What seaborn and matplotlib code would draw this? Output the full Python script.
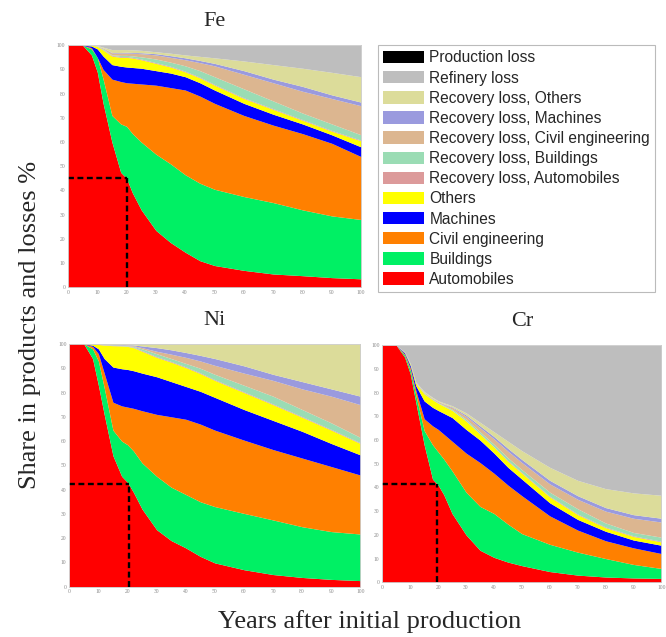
import matplotlib
matplotlib.use("Agg")
import matplotlib.pyplot as plt
from matplotlib.patches import Patch
import seaborn as sns

# years after initial production (shared x grid)
years = [0, 5, 8, 10, 12, 15, 18, 20, 22, 25, 30, 35, 40, 45, 50, 60, 70, 80, 90, 100]

categories = ["Automobiles", "Buildings", "Civil engineering", "Machines", "Others",
              "Recovery loss, Automobiles", "Recovery loss, Buildings",
              "Recovery loss, Civil engineering", "Recovery loss, Machines",
              "Recovery loss, Others", "Refinery loss", "Production loss"]
colors = ["#ff0000", "#00f064", "#ff8000", "#0000ff", "#ffff00",
          "#dc9a9a", "#9adcb4", "#dcb690", "#9a9ade",
          "#dcdc9a", "#bebebe", "#000000"]

# upper edge of each stacked layer (cumulative share %), bottom to top
fe_auto = [100, 100, 96, 89, 76, 60, 47.5, 45, 39, 32, 23.5, 18.5, 14.5, 11, 9, 7, 5.5, 4.8, 4, 3.5]
fe_bld = [100, 100, 98.5, 95, 86, 71, 67.5, 66.5, 63.5, 60, 55, 51, 46.5, 43, 40.5, 37.5, 35, 32, 29.5, 28]
fe_civ = [100, 100, 99, 95, 90, 86, 85, 84.5, 84.3, 84, 83.5, 82.5, 81.5, 79, 76, 71, 67, 63.5, 59.5, 54]
fe_mach = [100, 100, 99.7, 98.5, 95.5, 92, 91.3, 91, 90.8, 90.5, 89.5, 88.5, 87, 84.5, 81.5, 76, 71.5, 67.5, 63, 58]
fe_oth = [100, 100, 100, 99.5, 98, 95.5, 95, 95, 94.7, 94, 92.5, 91, 89, 86.5, 83.5, 78, 73.5, 69, 64.5, 60.5]
fe_rl_auto = [100, 100, 100, 99.6, 98.2, 95.8, 95.3, 95.3, 95, 94.3, 92.8, 91.3, 89.3, 86.8, 83.8, 78.3, 73.8, 69.3, 64.8, 60.8]
fe_rl_bld = [100, 100, 100, 99.7, 98.5, 96, 95.8, 95.8, 95.6, 95.2, 94.3, 93, 91.5, 89.5, 87, 82, 77, 72, 67.5, 63]
fe_rl_civ = [100, 100, 100, 99.8, 98.8, 96.8, 96.8, 96.8, 96.7, 96.5, 96, 95, 94, 92.8, 91.5, 88, 84.5, 81, 78, 75]
fe_rl_mach = [100, 100, 100, 99.8, 98.9, 97, 97, 97.1, 97, 96.9, 96.5, 95.7, 94.8, 93.7, 92.5, 89.5, 86, 83, 79.5, 76.5]
fe_rl_oth = [100, 100, 100, 99.9, 99.2, 98.2, 98.2, 98.2, 98.1, 97.9, 97.3, 96.7, 96, 95.4, 94.8, 93.5, 92, 90.5, 88.8, 87]

ni_auto = [100, 100, 94, 83, 71, 54, 45.5, 43, 39, 32, 23.5, 19, 16, 12.5, 9.8, 7, 5, 3.8, 3, 2.5]
ni_bld = [100, 100, 98, 93, 82, 64.5, 60, 58.5, 56, 51, 45.5, 41, 38, 35, 33, 30.2, 27.5, 24.7, 22.7, 21.7]
ni_civ = [100, 100, 99, 96, 88, 76, 74.5, 74, 73.5, 72.5, 71, 70, 69, 67, 64.5, 60.4, 56.5, 53, 49.5, 46]
ni_mach = [100, 100, 99.5, 98, 94, 90.5, 89.8, 89.5, 89, 88, 86.5, 84.5, 82.5, 80.5, 78, 73, 68.5, 64, 59, 54.3]
ni_oth = [100, 100, 100, 99.8, 99.5, 99.3, 99.2, 99, 98.5, 97, 94.5, 92.5, 90.3, 87.8, 85, 80, 75, 69.8, 64.5, 59]
ni_rl_auto = [100, 100, 100, 99.9, 99.6, 99.4, 99.3, 99.1, 98.7, 97.3, 94.8, 92.8, 90.6, 88.1, 85.3, 80.3, 75.3, 70.1, 64.8, 59.3]
ni_rl_bld = [100, 100, 100, 99.9, 99.7, 99.6, 99.5, 99.3, 99, 98, 96, 94, 92, 90, 87.5, 83, 78.5, 73, 67.5, 61.5]
ni_rl_civ = [100, 100, 100, 100, 99.8, 99.7, 99.6, 99.5, 99.3, 98.5, 97, 95.8, 94.5, 93, 91.2, 88, 85, 81.5, 78.5, 75]
ni_rl_mach = [100, 100, 100, 100, 99.9, 99.8, 99.8, 99.7, 99.6, 99.2, 98.5, 97.6, 96.5, 95.3, 94, 91, 87.5, 84.5, 81.5, 78.5]
ni_rl_oth = [100, 100, 100, 100, 100, 100, 100, 100, 100, 100, 100, 100, 100, 100, 100, 100, 100, 100, 100, 100]

cr_auto = [100, 100, 95, 88, 76, 58, 43.5, 41, 37, 29, 20, 13.5, 10.5, 8.5, 7, 4.5, 3, 2.2, 1.8, 1.6]
cr_bld = [100, 100, 95.8, 89.5, 79, 64, 58, 55, 52, 47, 38, 32, 29, 24.5, 20.5, 16, 12.7, 10, 7.5, 5.8]
cr_civ = [100, 100, 96.3, 90.5, 81, 69, 66, 64.5, 62.5, 59.5, 54.5, 50.5, 46, 41, 36.5, 28, 22, 17.5, 14.5, 12.1]
cr_mach = [100, 100, 96.8, 91.5, 83, 76.5, 73.8, 72.5, 71.3, 69.5, 64.5, 60, 54.5, 48.5, 43.5, 33.5, 26.5, 21.5, 17.8, 15.6]
cr_oth = [100, 100, 97, 92, 84, 79.5, 77, 75.5, 74.3, 72.5, 68, 62.5, 57, 51, 46, 36, 28.5, 23, 19.3, 17]
cr_rl_auto = [100, 100, 97, 92, 84.1, 79.6, 77.1, 75.6, 74.4, 72.6, 68.2, 62.7, 57.2, 51.3, 46.3, 36.3, 28.8, 23.3, 19.6, 17.3]
cr_rl_bld = [100, 100, 97.1, 92.1, 84.2, 79.8, 77.3, 75.8, 74.7, 73, 68.8, 63.5, 58.2, 52.5, 47.5, 38, 31, 25, 21, 19]
cr_rl_civ = [100, 100, 97.1, 92.2, 84.3, 80.1, 77.6, 76.2, 75.1, 73.7, 70, 65.2, 60.5, 55.3, 50.5, 41.5, 35, 30, 27, 25.4]
cr_rl_mach = [100, 100, 97.2, 92.3, 84.4, 80.2, 77.7, 76.3, 75.3, 74, 70.6, 66, 61.5, 56.5, 51.8, 43, 36.5, 31.5, 28.5, 27]
cr_rl_oth = [100, 100, 97.2, 92.4, 84.5, 80.5, 78, 76.6, 75.7, 74.5, 71.5, 67.5, 63.5, 59.5, 55.5, 48.5, 43, 39.5, 37.7, 36.7]

# refinery and production losses fill the rest up to 100 %
ceiling = [100, 100, 100, 100, 100, 100, 100, 100, 100, 100, 100, 100, 100, 100, 100, 100, 100, 100, 100, 100]

# half-life markers (year, share %)
fe_half = (20, 45)
ni_half = (20.5, 42.5)
cr_half = (19.5, 41.6)

sns.set_style("white")
plt.rcParams["font.family"] = ["Liberation Serif", "DejaVu Serif"]


def draw_panel(ax, tops, title, half):
    lower = [0] * len(years)
    for top, col in zip(tops, colors):
        ax.fill_between(years, lower, top, color=col, linewidth=0)
        lower = top
    hx, hy = half
    ax.plot([0, hx], [hy, hy], color="black", ls=(0, (2.5, 1.5)), lw=1.7)
    ax.plot([hx, hx], [0, hy], color="black", ls=(0, (2.5, 1.5)), lw=1.7)
    ax.set_xlim(0, 100)
    ax.set_ylim(0, 100)
    ax.set_xticks(range(0, 101, 10))
    ax.set_yticks(range(0, 101, 10))
    ax.tick_params(labelsize=4, colors="#888888", length=2, direction="in", pad=2)
    for s in ax.spines.values():
        s.set_color("#cccccc")
        s.set_linewidth(0.6)
    ax.set_title(title, fontsize=16, pad=14)


fig = plt.figure(figsize=(6.66, 6.37), dpi=100)
ax_fe = fig.add_axes([0.102, 0.549, 0.440, 0.380])
ax_ni = fig.add_axes([0.104, 0.079, 0.437, 0.381])
ax_cr = fig.add_axes([0.574, 0.086, 0.419, 0.372])

draw_panel(ax_fe, [fe_auto, fe_bld, fe_civ, fe_mach, fe_oth, fe_rl_auto, fe_rl_bld,
                   fe_rl_civ, fe_rl_mach, fe_rl_oth, ceiling, ceiling], "Fe", fe_half)
draw_panel(ax_ni, [ni_auto, ni_bld, ni_civ, ni_mach, ni_oth, ni_rl_auto, ni_rl_bld,
                   ni_rl_civ, ni_rl_mach, ni_rl_oth, ceiling, ceiling], "Ni", ni_half)
draw_panel(ax_cr, [cr_auto, cr_bld, cr_civ, cr_mach, cr_oth, cr_rl_auto, cr_rl_bld,
                   cr_rl_civ, cr_rl_mach, cr_rl_oth, ceiling, ceiling], "Cr", cr_half)

handles = [Patch(facecolor=c, edgecolor="none", label=l)
           for l, c in zip(categories[::-1], colors[::-1])]
leg = fig.legend(handles=handles, loc="upper left",
                 bbox_to_anchor=(378 / 666, 1 - 45 / 637),
                 frameon=True, fancybox=False, edgecolor="#aaaaaa",
                 prop={"family": "Liberation Sans", "size": 11.2},
                 handlelength=2.6, handleheight=0.85, handletextpad=0.35,
                 labelspacing=0.33, borderpad=0.35, borderaxespad=0)
leg.get_frame().set_linewidth(0.8)

fig.text(0.045, 0.49, "Share in products and losses %", rotation=90,
         ha="center", va="center", fontsize=19)
fig.text(0.555, 0.024, "Years after initial production", ha="center",
         va="center", fontsize=19)

fig.savefig("out.png", dpi=100)
